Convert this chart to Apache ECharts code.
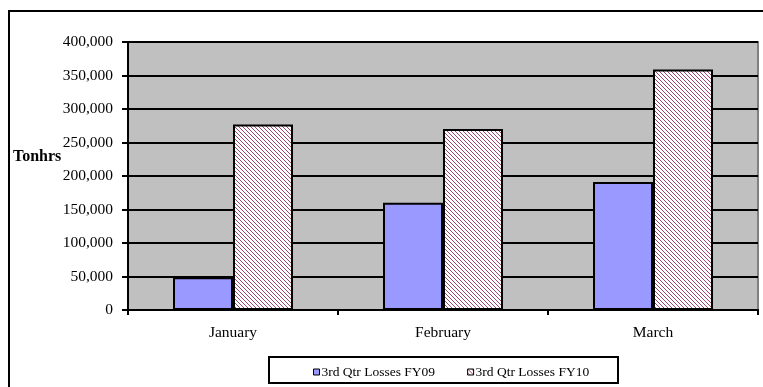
<!DOCTYPE html>
<html>
<head>
<meta charset="utf-8">
<script src="https://cdn.jsdelivr.net/npm/echarts@6/dist/echarts.min.js"></script>
<style>
  html, body { margin: 0; padding: 0; background: #fff; }
  #chart { width: 763px; height: 387px; }
</style>
</head>
<body>
<div id="chart"></div>
<script>
// Monthly losses, third quarter
const months = ['January', 'February', 'March'];
const lossesFY09 = [49000, 160000, 191000];
const lossesFY10 = [277000, 270000, 359000];
const seriesNames = ['3rd Qtr Losses FY09', '3rd Qtr Losses FY10'];
const yTicks = { min: 0, max: 400000, step: 50000 };

// Diagonal hatch tile for the FY10 bars
function hatchTile() {
  const c = document.createElement('canvas');
  c.width = 4; c.height = 4;
  const g = c.getContext('2d');
  g.fillStyle = '#ffffff';
  g.fillRect(0, 0, 4, 4);
  g.fillStyle = '#a3476f';
  for (let i = 0; i < 4; i++) {
    g.fillRect(i, i, 1, 1);
  }
  return c;
}
const hatch = { image: hatchTile(), repeat: 'repeat' };

const serif = '"Liberation Serif", "DejaVu Serif", serif';
const chart = echarts.init(document.getElementById('chart'));

chart.setOption({
  animation: false,
  textStyle: { fontFamily: serif },
  grid: {
    left: 128, top: 42, right: 5, bottom: 77,
    show: true, backgroundColor: '#c0c0c0', borderColor: '#808080', borderWidth: 2
  },
  legend: {
    left: 308, top: 360,
    itemWidth: 6, itemHeight: 6, itemGap: 32,
    itemStyle: { borderColor: '#000', borderWidth: 1 },
    textStyle: { fontFamily: serif, fontSize: 13.5, color: '#000', padding: [0, 0, 0, -3] },
    data: [
      { name: seriesNames[0], icon: 'rect' },
      { name: seriesNames[1], icon: 'rect' }
    ]
  },
  xAxis: {
    type: 'category',
    data: months,
    axisLine: { lineStyle: { color: '#000', width: 2 } },
    axisTick: { show: true, length: 5, lineStyle: { color: '#000', width: 2 } },
    axisLabel: { color: '#000', fontSize: 15.5, margin: 15 },
    splitLine: { show: false }
  },
  yAxis: {
    type: 'value',
    min: yTicks.min, max: yTicks.max, interval: yTicks.step,
    axisLine: { show: true, lineStyle: { color: '#000', width: 2 } },
    axisTick: { show: true, length: 6, lineStyle: { color: '#000', width: 2 } },
    axisLabel: {
      color: '#000', fontSize: 15.5, margin: 15,
      formatter: v => v.toLocaleString('en-US')
    },
    splitLine: { show: true, lineStyle: { color: '#000', width: 2 } }
  },
  series: [
    {
      name: seriesNames[0], type: 'bar', data: lossesFY09,
      barWidth: 60, barGap: '0%',
      itemStyle: { color: '#9999ff', borderColor: '#000', borderWidth: 2 }
    },
    {
      name: seriesNames[1], type: 'bar', data: lossesFY10,
      barWidth: 60, barGap: '0%',
      itemStyle: { color: hatch, borderColor: '#000', borderWidth: 2 }
    }
  ],
  graphic: [
    {
      type: 'rect', silent: true, z: -1,
      shape: { x: 9, y: 11, width: 800, height: 420 },
      style: { fill: 'none', stroke: '#000', lineWidth: 2 }
    },
    {
      type: 'rect', silent: true,
      shape: { x: 269, y: 357, width: 349, height: 26 },
      style: { fill: 'none', stroke: '#000', lineWidth: 2 }
    },
    {
      type: 'text', left: 13, top: 149,
      style: { text: 'Tonhrs', font: 'bold 16px ' + serif, fill: '#000' }
    }
  ]
});
</script>
</body>
</html>
